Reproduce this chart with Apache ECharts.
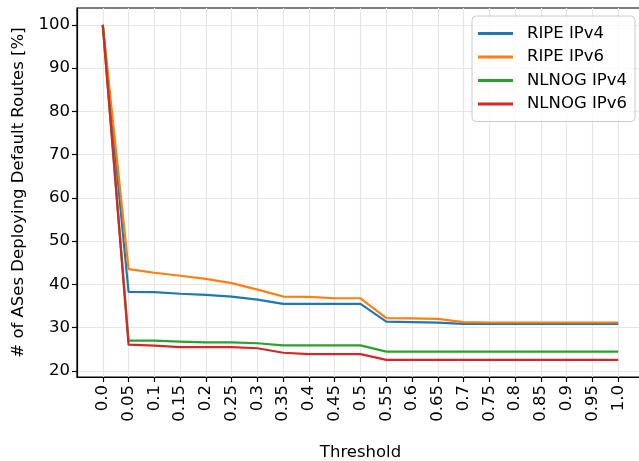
<!DOCTYPE html>
<html>
<head>
<meta charset="utf-8">
<script src="https://cdn.jsdelivr.net/npm/echarts@6/dist/echarts.min.js"></script>
<style>
  html, body { margin: 0; padding: 0; background: #fff; }
  #chart { width: 639px; height: 461px; }
</style>
</head>
<body>
<div id="chart"></div>
<script>
const thresholds = ['0.0', '0.05', '0.1', '0.15', '0.2', '0.25', '0.3', '0.35', '0.4', '0.45', '0.5',
  '0.55', '0.6', '0.65', '0.7', '0.75', '0.8', '0.85', '0.9', '0.95', '1.0']
const yTicks = [20, 30, 40, 50, 60, 70, 80, 90, 100]

const ripeV4 = [100, 38.3, 38.2, 37.85, 37.6, 37.2, 36.5, 35.5, 35.5, 35.5, 35.5,
  31.4, 31.3, 31.15, 30.9, 30.9, 30.9, 30.9, 30.9, 30.9, 30.9]
const ripeV6 = [100, 43.55, 42.7, 42.0, 41.3, 40.3, 38.8, 37.2, 37.1, 36.8, 36.8,
  32.2, 32.15, 32.05, 31.3, 31.2, 31.2, 31.2, 31.2, 31.2, 31.2]
const nlnogV4 = [100, 27.0, 27.0, 26.8, 26.6, 26.6, 26.4, 25.9, 25.9, 25.9, 25.9,
  24.45, 24.45, 24.45, 24.45, 24.45, 24.45, 24.45, 24.45, 24.45, 24.45]
const nlnogV6 = [100, 26.1, 25.85, 25.5, 25.5, 25.5, 25.25, 24.2, 23.9, 23.9, 23.9,
  22.55, 22.55, 22.55, 22.55, 22.55, 22.55, 22.55, 22.55, 22.55, 22.55]

const seriesDefs = [
  { name: 'RIPE IPv4', values: ripeV4, color: '#1f77b4' },
  { name: 'RIPE IPv6', values: ripeV6, color: '#ff7f0e' },
  { name: 'NLNOG IPv4', values: nlnogV4, color: '#2ca02c' },
  { name: 'NLNOG IPv6', values: nlnogV6, color: '#d62728' }
]

const FONT = 'DejaVu Sans'
const FS = 16.5
const idx = thresholds.map((t, i) => i)

const chart = echarts.init(document.getElementById('chart'), null, { renderer: 'canvas' })

chart.setOption({
  animation: false,
  backgroundColor: '#fff',
  textStyle: { fontFamily: FONT },
  grid: {
    left: 77, top: 8, right: -5, bottom: 84,
    outerBoundsMode: 'none',
    containLabel: false,
    show: true, borderColor: '#000', borderWidth: 1.2, backgroundColor: 'transparent'
  },
  legend: {
    orient: 'vertical',
    right: 4, top: 16,
    icon: 'rect',
    itemWidth: 35, itemHeight: 3,
    itemGap: 4.5,
    padding: [8, 8, 8, 6],
    backgroundColor: 'rgba(255,255,255,0.8)',
    borderColor: '#cccccc', borderWidth: 1, borderRadius: 4,
    textStyle: { fontFamily: FONT, fontSize: FS, color: '#000', lineHeight: 19, padding: [0, 0, 0, 9] },
    data: seriesDefs.map(s => s.name)
  },
  xAxis: {
    type: 'value',
    min: -1, max: 21, interval: 1,
    name: 'Threshold',
    nameLocation: 'middle',
    nameGap: 67,
    nameTextStyle: { fontFamily: FONT, fontSize: FS, color: '#000' },
    axisLine: { show: true, onZero: false, lineStyle: { color: '#000', width: 1.2 } },
    axisTick: { show: true, length: 5, customValues: idx, lineStyle: { color: '#000', width: 1.2 } },
    axisLabel: {
      rotate: 90, margin: 8,
      customValues: idx,
      formatter: v => thresholds[v] ?? '',
      fontFamily: FONT, fontSize: FS, color: '#000'
    },
    splitLine: { show: true, lineStyle: { color: '#e6e6e6', width: 1.2 } }
  },
  yAxis: {
    type: 'value',
    min: 18.6, max: 103.9, splitNumber: 8,
    name: '# of ASes Deploying Default Routes [%]',
    nameLocation: 'middle',
    nameGap: 42,
    nameTextStyle: { fontFamily: FONT, fontSize: FS, color: '#000' },
    axisLine: { show: true, onZero: false, lineStyle: { color: '#000', width: 1.2 } },
    axisTick: { show: true, length: 5, customValues: yTicks, lineStyle: { color: '#000', width: 1.2 } },
    axisLabel: { margin: 7, customValues: yTicks, fontFamily: FONT, fontSize: FS, color: '#000' },
    splitLine: { show: true, lineStyle: { color: '#e6e6e6', width: 1.2 } }
  },
  series: seriesDefs.map(s => ({
    name: s.name,
    type: 'line',
    data: s.values.map((v, i) => [i, v]),
    showSymbol: false,
    symbol: 'none',
    lineStyle: { color: s.color, width: 2.2 },
    itemStyle: { color: s.color }
  }))
})
</script>
</body>
</html>
